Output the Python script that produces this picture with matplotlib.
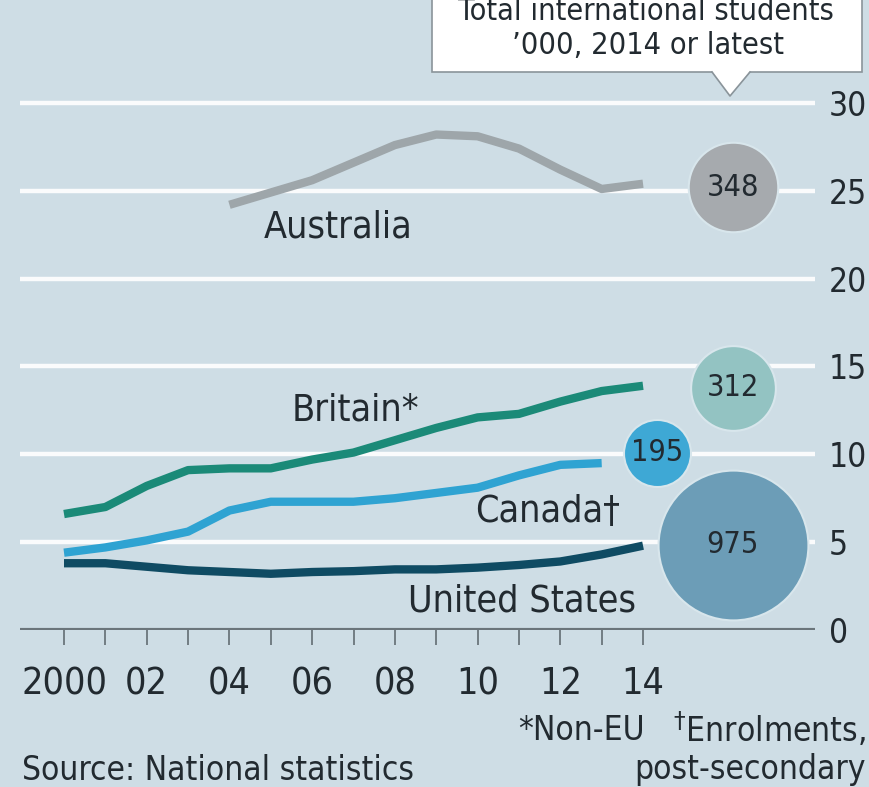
import numpy as np
import matplotlib
matplotlib.use("Agg")
import matplotlib.pyplot as plt
from matplotlib.patches import Polygon, FancyBboxPatch

# share of international students, % of total, by year
years_all = list(range(2000, 2015))
years_aus = list(range(2004, 2015))
years_can = list(range(2000, 2014))

australia = [24.2, 24.9, 25.6, 26.6, 27.6, 28.2, 28.1, 27.4, 26.2, 25.1, 25.4]
britain = [6.6, 7.0, 8.2, 9.1, 9.2, 9.2, 9.7, 10.1, 10.8, 11.5, 12.1, 12.3, 13.0, 13.6, 13.9]
canada = [4.4, 4.7, 5.1, 5.6, 6.8, 7.3, 7.3, 7.3, 7.5, 7.8, 8.1, 8.8, 9.4, 9.5]
united_states = [3.8, 3.8, 3.6, 3.4, 3.3, 3.2, 3.3, 3.35, 3.45, 3.45, 3.55, 3.7, 3.9, 4.3, 4.8]

# total international students, '000
totals = {"Australia": 348, "Britain": 312, "Canada": 195, "United States": 975}

bg = "#cedde5"
col_aus = "#9ea6aa"
col_gb = "#1b8a78"
col_can = "#2fa3d2"
col_us = "#0f4b63"
txt = "#222a30"
axis_grey = "#6b757b"

W, H = 869, 787
fig = plt.figure(figsize=(W / 100, H / 100), dpi=100)
fig.patch.set_facecolor(bg)

# axes placed in pixel terms: x 20..815, y 0 at 630, 17.57 px per point
px_per_yr = 41.36
px_per_unit = 17.57
x0_px, x1_px = 20, 815
ymax = 31
ax = fig.add_axes([x0_px / W, (H - 630) / H, (x1_px - x0_px) / W, ymax * px_per_unit / H])
ax.set_facecolor(bg)
ax.set_xlim(2000 - (64 - x0_px) / px_per_yr, 2000 + (x1_px - 64) / px_per_yr)
ax.set_ylim(0, ymax)

font = dict(family="DejaVu Sans", fontstretch="condensed")

for v in [5, 10, 15, 20, 25, 30]:
    ax.axhline(v, color="white", lw=3.2, zorder=1, alpha=0.9)
ax.axhline(0, color=axis_grey, lw=3, zorder=2)

for s in ax.spines.values():
    s.set_visible(False)

line_kw = dict(lw=6, solid_capstyle="butt", solid_joinstyle="round", zorder=3)
ax.plot(years_aus, australia, color=col_aus, **line_kw)
ax.plot(years_all, britain, color=col_gb, **line_kw)
ax.plot(years_can, canada, color=col_can, **line_kw)
ax.plot(years_all, united_states, color=col_us, **line_kw)

# series labels
ax.text(2006.62, 22.9, "Australia", ha="center", va="center", fontsize=27, color=txt, **font)
ax.text(2008.6, 12.5, "Britain*", ha="right", va="center", fontsize=27, color=txt, **font)
ax.text(2013.44, 6.7, "Canada\u2020", ha="right", va="center", fontsize=27, color=txt, **font)
ax.text(2013.83, 1.6, "United States", ha="right", va="center", fontsize=27, color=txt, **font)

# bubbles sized by total students (area ~ value)
bubble_x = {"Australia": 2016.17, "Britain": 2016.17, "Canada": 2014.34, "United States": 2016.17}
bubble_y = {"Australia": 25.2, "Britain": 13.8, "Canada": 10.1, "United States": 4.85}
bubble_c = {"Australia": "#a6aaae", "Britain": "#93c3c2", "Canada": "#3ea8d5", "United States": "#6c9db7"}
r_scale = 2.4 * 72 / 100  # points of radius per sqrt('000)
for name, val in totals.items():
    size = (2 * r_scale * np.sqrt(val)) ** 2
    ax.scatter(bubble_x[name], bubble_y[name], s=size, color=bubble_c[name],
               edgecolors="#d8e6ec", linewidths=1.5, zorder=4, clip_on=False)
    ax.text(bubble_x[name], bubble_y[name], str(val), ha="center", va="center",
            fontsize=22, color=txt, zorder=5, **font)

# x axis ticks every year, labels on even years
ax.set_xticks(years_all)
ax.set_xticklabels(["2000" if y == 2000 else (f"{y % 100:02d}" if y % 2 == 0 else "") for y in years_all])
ax.tick_params(axis="x", length=11, width=1.3, color=axis_grey, pad=15, labelsize=27, labelcolor=txt)
for lab in ax.get_xticklabels():
    lab.set_fontstretch("condensed")

ax.yaxis.tick_right()
ax.set_yticks([0, 5, 10, 15, 20, 25, 30])
ax.tick_params(axis="y", length=0, pad=10, labelsize=24, labelcolor=txt)
for lab in ax.get_yticklabels():
    lab.set_fontstretch("condensed")

# callout box for bubble key
box = FancyBboxPatch((432 / W, 1 - 72 / H), 430 / W, 100 / H, boxstyle="square,pad=0",
                     transform=fig.transFigure, facecolor="white", edgecolor="#8a949a", lw=1.2)
fig.patches.append(box)
tri = Polygon([[712 / W, 1 - 71 / H], [730 / W, 1 - 96 / H], [750 / W, 1 - 71 / H]],
              closed=True, transform=fig.transFigure, facecolor="white", edgecolor="none")
fig.patches.append(tri)
fig.add_artist(plt.Line2D([712 / W, 730 / W, 750 / W], [1 - 72 / H, 1 - 96 / H, 1 - 72 / H],
                          transform=fig.transFigure, color="#8a949a", lw=1.2))
fig.text(646 / W, 1 - 11 / H, "Total international students", ha="center", va="center",
         fontsize=22, color=txt, **font)
fig.text(648 / W, 1 - 45 / H, "\u2019000, 2014 or latest", ha="center", va="center",
         fontsize=22, color=txt, **font)

# footnotes and source
fig.text(645 / W, 1 - 730 / H, "*Non-EU", ha="right", va="center", fontsize=24, color=txt, **font)
fig.text(866 / W, 1 - 730 / H, "$^{\u2020}$Enrolments,", ha="right", va="center", fontsize=24, color=txt, **font)
fig.text(866 / W, 1 - 770 / H, "post-secondary", ha="right", va="center", fontsize=24, color=txt, **font)
fig.text(22 / W, 1 - 770 / H, "Source: National statistics", ha="left", va="center", fontsize=24, color=txt, **font)

fig.savefig("out.png", dpi=100, facecolor=bg)
